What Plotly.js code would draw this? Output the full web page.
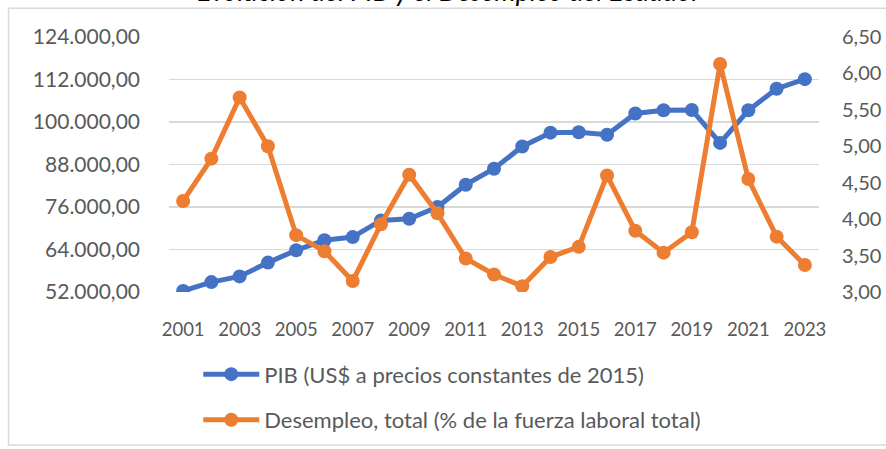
<!DOCTYPE html>
<html>
<head>
<meta charset="utf-8">
<script src="https://cdn.plot.ly/plotly-3.0.1.min.js"></script>
<style>html,body{margin:0;padding:0;background:#fff;overflow:hidden}#chart{width:886px;height:449px}</style>
</head>
<body>
<div id="chart"></div>
<script>
const years = [2001,2002,2003,2004,2005,2006,2007,2008,2009,2010,2011,2012,2013,2014,2015,2016,2017,2018,2019,2020,2021,2022,2023];
const pib = [52300,54800,56400,60300,63800,66600,67500,72200,72700,76000,82300,86800,93100,97000,97100,96400,102400,103300,103400,94100,103300,109400,112100];
const desempleo = [4.25,4.83,5.67,5.00,3.78,3.56,3.15,3.93,4.61,4.08,3.46,3.24,3.08,3.48,3.62,4.60,3.84,3.54,3.82,6.13,4.55,3.76,3.37];
const pibName = 'PIB (US$ a precios constantes de 2015)';
const desName = 'Desempleo, total (% de la fuerza laboral total)';
const titleText = 'Evolución del PIB y el Desempleo del Ecuador';

const FONT = 'Lato, "Open Sans", sans-serif';
const GREY = '#595959';

const traces = [
  {x: years, y: pib, name: pibName, type: 'scatter', mode: 'lines+markers',
   line: {color: '#4472C4', width: 5}, marker: {color: '#4472C4', size: 14},
   legendgroup: 'a', yaxis: 'y'},
  {x: years, y: desempleo, name: desName, type: 'scatter', mode: 'lines+markers',
   line: {color: '#ED7D31', width: 5}, marker: {color: '#ED7D31', size: 14},
   legendgroup: 'b', yaxis: 'y2'}
];

const layout = {
  width: 886, height: 449,
  margin: {l: 169, r: 67, t: 36.7, b: 157.3, autoexpand: false},
  paper_bgcolor: '#fff', plot_bgcolor: '#fff',
  separators: ',.',
  font: {family: FONT, color: GREY},
  showlegend: true,
  xaxis: {
    range: [2000.5, 2023.5], tick0: 2001, dtick: 2, showgrid: false, zeroline: false,
    showline: false, ticks: '', ticklabelstandoff: 24,
    tickfont: {family: FONT, size: 18.5, color: GREY}
  },
  yaxis: {
    range: [52000, 124000], dtick: 12000, tick0: 52000, tickformat: ',.2f',
    showgrid: true, gridcolor: '#d9d9d9', gridwidth: 1.5, zeroline: false, showline: false,
    ticks: '', ticklabelstandoff: 28,
    tickfont: {family: FONT, size: 21, color: GREY}
  },
  yaxis2: {
    overlaying: 'y', side: 'right', range: [3, 6.5], dtick: 0.5, tick0: 3, tickformat: '.2f',
    showgrid: false, zeroline: false, showline: false, ticks: '', ticklabelstandoff: 22,
    tickfont: {family: FONT, size: 20, color: GREY}
  },
  legend: {
    x: 0.045, xanchor: 'left', yref: 'container', y: 0.213, yanchor: 'top', orientation: 'v',
    traceorder: 'grouped', tracegroupgap: 14, itemwidth: 56,
    font: {family: FONT, size: 22, color: GREY}, bgcolor: 'rgba(0,0,0,0)'
  },
  annotations: [{
    text: titleText, xref: 'paper', yref: 'paper', x: 0.431, y: 1.184,
    xanchor: 'center', yanchor: 'middle', showarrow: false,
    font: {family: FONT, size: 27, color: '#000', style: 'italic'}
  }],
  shapes: [{
    type: 'rect', xref: 'paper', yref: 'paper',
    x0: -0.2469, x1: 1.12, y0: -0.6, y1: 1.1125,
    line: {color: '#d9d9d9', width: 1.5}, fillcolor: 'rgba(0,0,0,0)', layer: 'below'
  }]
};

Plotly.newPlot('chart', traces, layout, {displayModeBar: false, staticPlot: true});
</script>
</body>
</html>
